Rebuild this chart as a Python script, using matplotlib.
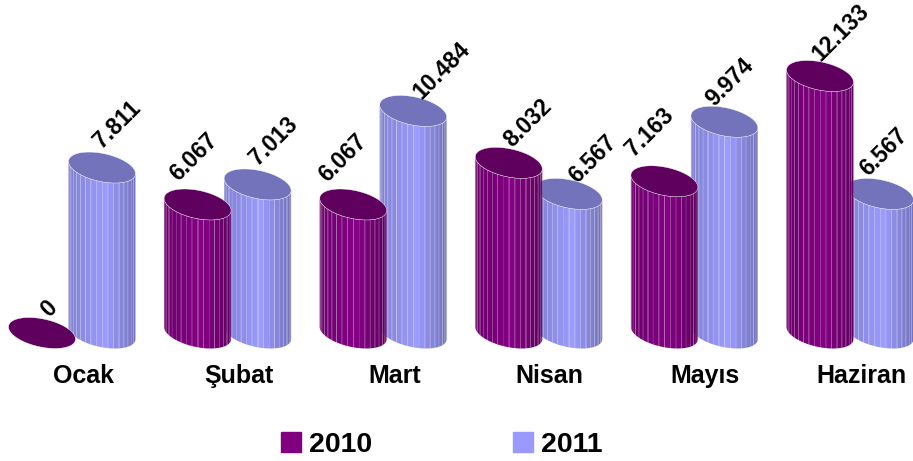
import numpy as np
import matplotlib
matplotlib.use('Agg')
import matplotlib.pyplot as plt
from matplotlib.patches import Polygon, Patch

plt.rcParams['font.family'] = ['Liberation Sans', 'DejaVu Sans']
plt.rcParams['font.weight'] = 'bold'

months = ['Ocak', 'Şubat', 'Mart', 'Nisan', 'Mayıs', 'Haziran']
values_2010 = [0, 6067, 6067, 8032, 7163, 12133]
values_2011 = [7811, 7013, 10484, 6567, 9974, 6567]
labels_2010 = ['0', '6.067', '6.067', '8.032', '7.163', '12.133']
labels_2011 = ['7.811', '7.013', '10.484', '6.567', '9.974', '6.567']

# label nudges in pixels from the middle of each cylinder top
nudge_2010 = [(7, 24), (-4, 47), (-10, 46), (19, 40), (-15, 49), (21, 43)]
nudge_2011 = [(15, 43), (16, 43), (28, 40), (24, 35), (5, 40), (4, 42)]

W, H = 913, 461
PX_PER_GROUP = 155.6
PX_PER_UNIT = 257 / 12133
ZERO_Y = 333
AXES_BOTTOM = 352
GROUP0_X = 72

fig = plt.figure(figsize=(W / 100, H / 100), dpi=100)
ax = fig.add_axes([0, 1 - AXES_BOTTOM / H, 1, AXES_BOTTOM / H])
ax.set_xlim(-GROUP0_X / PX_PER_GROUP, (W - GROUP0_X) / PX_PER_GROUP)
ax.set_ylim(-(AXES_BOTTOM - ZERO_Y) / PX_PER_UNIT, ZERO_Y / PX_PER_UNIT)
for s in ax.spines.values():
    s.set_visible(False)
ax.set_yticks([])


def shade(color, u):
    # brightest a bit right of the middle, darker towards both edges
    if u < 0.55:
        f = 1 - 0.18 * (0.55 - u) / 0.55
    else:
        f = 1 - 0.28 * (u - 0.55) / 0.45
    return tuple(c * f for c in color)


def draw_cylinder(xc, val, side, top, z):
    a_x = 33.5 / PX_PER_GROUP
    b_y = 15.5 / PX_PER_UNIT
    phi = 0.4
    n = 18
    if val > 0:
        ts = np.linspace(np.pi, 0, n + 1)
        for k in range(n):
            t = np.linspace(ts[k], ts[k + 1], 6)
            x = xc + a_x * np.cos(t)
            low = -b_y * np.sin(t + phi)
            high = val - b_y * np.sin(t + phi)
            pts = np.r_[np.c_[x, low], np.c_[x[::-1], high[::-1]]]
            u = (x.mean() - (xc - a_x)) / (2 * a_x)
            ax.add_patch(Polygon(pts, closed=True, facecolor=shade(side, u),
                                 edgecolor='none', zorder=z))
            if k > 0:
                ax.plot([x[0], x[0]], [low[0], high[0]], color='white',
                        lw=0.5, alpha=0.18 if k % 3 else 0.32, zorder=z + 0.1)
    t = np.linspace(0, 2 * np.pi, 100)
    x = xc + a_x * np.cos(t)
    y = val - b_y * np.sin(t + phi)
    ax.add_patch(Polygon(np.c_[x, y], closed=True, facecolor=top,
                         edgecolor='white', lw=0.3, zorder=z + 0.2))


def put_label(xc, val, text, nudge):
    ax.text(xc + nudge[0] / PX_PER_GROUP, val + nudge[1] / PX_PER_UNIT, text,
            rotation=45, rotation_mode='anchor', ha='center', va='center',
            fontsize=16.5, color='black', zorder=5)


purple = (0x84 / 255, 0, 0x84 / 255)
lilac = (0x9c / 255, 0x9c / 255, 1.0)
offset = 30 / PX_PER_GROUP
for i in range(len(months)):
    draw_cylinder(i + offset, values_2011[i], lilac, '#7373BC', 2)
    draw_cylinder(i - offset, values_2010[i], purple, '#5F005F', 3)
    put_label(i - offset, values_2010[i], labels_2010[i], nudge_2010[i])
    put_label(i + offset, values_2011[i], labels_2011[i], nudge_2011[i])

ax.set_xticks(np.arange(len(months)) + 11 / PX_PER_GROUP)
ax.set_xticklabels(months, fontsize=18, fontweight='bold')
ax.tick_params(axis='x', length=0, pad=8.5)

handles = [Patch(color='#800080', label='2010'), Patch(color='#9999FF', label='2011')]
fig.legend(handles=handles, loc='center', bbox_to_anchor=(442 / W, 1 - 445 / H), ncol=2,
           frameon=False, fontsize=20.5, handlelength=0.7, handleheight=0.7,
           handletextpad=0.28, columnspacing=4.95, borderpad=0)

fig.savefig('out.png', dpi=100)
